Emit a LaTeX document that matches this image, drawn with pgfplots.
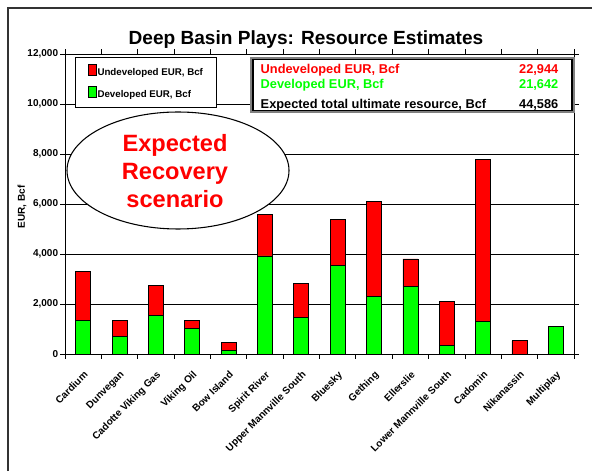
\documentclass[border=0pt]{standalone}
\usepackage{pgfplots}
\usepackage{pgfplotstable}
\pgfplotsset{compat=1.18}
\usepackage{fontspec}
\setmainfont{Liberation Sans}
\definecolor{undev}{RGB}{255,0,0}
\definecolor{dev}{RGB}{0,255,0}

% Developed and undeveloped EUR per play, Bcf
\pgfplotstableread{
idx dev undev
0 1340 1970
1 700 660
2 1560 1190
3 1030 330
4 130 340
5 3920 1660
6 1450 1380
7 3540 1850
8 2300 3790
9 2690 1110
10 360 1730
11 1310 6460
12 0 530
13 1110 0
}\eurdata

\pgfplotsset{
  ybar legend/.style={
    legend image code/.code={%
      \draw[##1,draw=black,line width=0.5pt] (0pt,-2.7pt) rectangle (5.4pt,2.7pt);}},
}

\begin{document}
\begin{tikzpicture}[x=0.75pt,y=0.75pt]
\path[use as bounding box] (0,0) rectangle (592,471);
\draw[line width=1.1pt, black!80] (8,0) -- (8,463) -- (592,463);

\begin{axis}[
  at={(48.75pt,87.75pt)}, anchor=south west,
  width=381.75pt, height=225pt, scale only axis,
  ybar stacked, bar width=11.25pt,
  xmin=-0.5, xmax=13.5, ymin=0, ymax=12000,
  xtick={-0.5,0.5,...,13.5},
  x tick label as interval,
  xticklabels={Cardium,Dunvegan,Cadotte Viking Gas,Viking Oil,Bow Island,Spirit River,Upper Mannville South,Bluesky,Gething,Ellerslie,Lower Mannville South,Cadomin,Nikanassin,Multiplay},
  ytick={0,2000,...,12000},
  ymajorgrids,
  grid style={black, line width=0.6pt},
  tick align=outside, major tick length=3.5pt,
  tick style={black, line width=0.6pt},
  axis line style={black, line width=0.7pt},
  scaled y ticks=false,
  /pgf/number format/fixed,
  /pgf/number format/1000 sep={,},
  /pgf/number format/assume math mode=true,
  ticklabel style={font=\fontsize{7.5}{9}\selectfont\bfseries},
  yticklabel style={inner sep=1.5pt},
  xticklabel style={rotate=45, anchor=north east, inner sep=1pt, xshift=-5pt, yshift=-5pt},
  ylabel={EUR, Bcf},
  ylabel style={at={(axis description cs:-0.0845,0.49)}, anchor=center, font=\fontsize{7.5}{9}\selectfont\bfseries},
  title={Deep Basin Plays: Resource Estimates},
  title style={at={(axis description cs:0.4735,1.02)}, anchor=center, font=\fontsize{14.3}{17}\selectfont\bfseries},
  reverse legend,
  legend cell align=left,
  legend style={at={(rel axis cs:0.0196,0.99)}, anchor=north west,
    draw=black, line width=0.8pt, fill=white,
    font=\fontsize{7.3}{8.6}\selectfont\bfseries,
    row sep=6pt, inner xsep=9pt, inner ysep=5pt,
    nodes={inner sep=1pt}},
]
\addplot[fill=dev, draw=black, line width=0.5pt] table[x=idx, y=dev] {\eurdata};
\addlegendentry{Developed EUR, Bcf}
\addplot[fill=undev, draw=black, line width=0.5pt] table[x=idx, y=undev] {\eurdata};
\addlegendentry{Undeveloped EUR, Bcf}
\end{axis}

% scenario callout
\draw[black, line width=0.8pt, fill=white] (178,300.5) ellipse [x radius=111, y radius=58.5];
\node[text=red, align=center, font=\fontsize{17.7}{21}\selectfont\bfseries] at (175,300) {Expected\\Recovery\\scenario};

% totals box
\draw[black!50, line width=0.8pt, fill=white] (251,359) rectangle (574,413);
\draw[black, line width=0.8pt] (253,360.5) rectangle (572,411.5);
\node[anchor=base west, text=red, font=\fontsize{9.6}{11}\selectfont\bfseries] at (256,397.5) {Undeveloped EUR, Bcf};
\node[anchor=base east, text=red, font=\fontsize{9.6}{11}\selectfont\bfseries] at (563,397.5) {22,944};
\node[anchor=base west, text=dev, font=\fontsize{9.6}{11}\selectfont\bfseries] at (256,382.5) {Developed EUR, Bcf};
\node[anchor=base east, text=dev, font=\fontsize{9.6}{11}\selectfont\bfseries] at (563,382.5) {21,642};
\node[anchor=base west, font=\fontsize{9.6}{11}\selectfont\bfseries] at (256,362) {Expected total ultimate resource, Bcf};
\node[anchor=base east, font=\fontsize{9.6}{11}\selectfont\bfseries] at (563,362) {44,586};
\end{tikzpicture}
\end{document}
